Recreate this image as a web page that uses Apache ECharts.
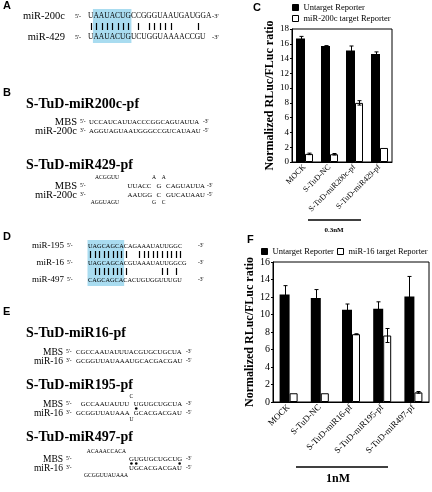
<!DOCTYPE html>
<html><head><meta charset="utf-8">
<script src="https://cdn.jsdelivr.net/npm/echarts@6/dist/echarts.min.js"></script>
<style>html,body{margin:0;padding:0;background:#fff}#c{width:432px;height:492px}</style>
</head><body><div id="c"></div>
<script>
// ---------- chart data ----------
const catsC = ['MOCK', 'S-TuD-NC', 'S-TuD-miR200c-pf', 'S-TuD-miR429-pf'];
const untargetC = [16.7, 15.7, 15.1, 14.6];
const untargetErrC = [0.3, 0.05, 0.6, 0.3];
const targetC = [1.1, 1.05, 8.0, 1.9];
const targetErrC = [0.1, 0.1, 0.3, 0];
const yTicksC = {min: 0, max: 18, step: 2};

const catsF = ['MOCK', 'S-TuD-NC', 'S-TuD-miR16-pf', 'S-TuD-miR195-pf', 'S-TuD-miR497-pf'];
const untargetF = [12.3, 11.9, 10.55, 10.65, 12.05];
const untargetErrF = [1.0, 0.95, 0.65, 0.8, 2.3];
const targetF = [1.0, 1.0, 7.75, 7.6, 1.1];
const targetErrF = [0, 0, 0.05, 0.8, 0.1];
const yTicksF = {min: 0, max: 16, step: 2};

const legendC = ['Untarget Reporter', 'miR-200c target Reporter'];
const legendF = ['Untarget Reporter', 'miR-16 target Reporter'];
const yName = 'Normalized RLuc/FLuc ratio';

// ---------- sequence panel texts ----------
const miR200c = 'UAAUACUGCCGGGUAAUGAUGGA';
const miR429 = 'UAAUACUGUCUGGUAAAACCGU';
const mbs200c = 'UCCAUCAUUACCCGGCAGUAUUA';
const miR200cRev = 'AGGUAGUAAUGGGCCGUCAUAAU';
const miR195 = 'UAGCAGCACAGAAAUAUUGGC';
const miR16 = 'UAGCAGCACGUAAAUAUUGGCG';
const miR497 = 'CAGCAGCACACUGUGGUUUGU';
const mbs16 = 'CGCCAAUAUUUACGUGCUGCUA';
const miR16Rev = 'GCGGUUAUAAAUGCACGACGAU';

const SERIF = '"Liberation Serif", "Times New Roman", serif';
const SANS = '"Liberation Sans", Arial, sans-serif';
const M = document.createElement('canvas').getContext('2d');
function tw(s, font) { M.font = font; return M.measureText(s).width; }
function sf(size, bold) { return (bold ? 'bold ' : '') + size + 'px ' + SERIF; }

const G = [];
function T(x, y, s, font, align) {
  G.push({type: 'text', x: x, y: y, z: 5, silent: true,
    style: {text: s, font: font, fill: '#000', textAlign: align || 'left', align: align || 'left',
      textVerticalAlign: 'middle', verticalAlign: 'middle'}});
}
function pipes(x0, y, a, b, font) {
  for (let i = 0; i < Math.min(a.length, b.length); i++) {
    if (a[i] === b[i]) {
      const cx = Math.round(x0 + tw(a.slice(0, i), font) + tw(a[i], font) / 2) + 0.5;
      G.push({type: 'line', z: 5, silent: true, shape: {x1: cx, y1: y - 3.5, x2: cx, y2: y + 3.5},
        style: {stroke: '#000', lineWidth: 1.2}});
    }
  }
}
function hilite(x0, seq, s, e, y1, y2, font) {
  G.push({type: 'rect', z: 1, silent: true,
    shape: {x: x0 + tw(seq.slice(0, s), font) - 0.5, y: y1, width: tw(seq.slice(s, e), font) + 1, height: y2 - y1},
    style: {fill: '#a9dcf0'}});
}
function dot(x, y) {
  G.push({type: 'circle', z: 5, silent: true, shape: {cx: x, cy: y, r: 1.3}, style: {fill: '#000'}});
}
const LET = 'bold 11px ' + SANS;

// ---- Panel A ----
T(3, 6, 'A', LET);
(function () {
  const f = sf(7.5), x0 = 88;
  hilite(x0, miR200c, 1, 8, 9, 43, f);
  T(65, 16, 'miR-200c', sf(10.5), 'right');
  T(65, 37, 'miR-429', sf(10.5), 'right');
  T(75, 16, "5'-", sf(6)); T(75, 37, "5'-", sf(6));
  T(x0, 16, miR200c, f); T(x0, 37, miR429, f);
  T(212, 16, "-3'", sf(6.5)); T(212, 37, "-3'", sf(6.5));
  pipes(x0, 26.5, miR200c, miR429, f);
})();

// ---- Panel B ----
T(3, 93, 'B', LET);
T(26, 104, 'S-TuD-miR200c-pf', sf(14, true));
(function () {
  const f = sf(6.8), x0 = 89, lf = sf(10.5);
  T(77, 122, 'MBS', lf, 'right'); T(77, 131, 'miR-200c', lf, 'right');
  T(80, 122, "5'-", sf(5.5)); T(80, 131, "3'-", sf(5.5));
  T(x0, 122, mbs200c, f); T(x0, 131, miR200cRev, f);
  T(203, 122, "-3'", sf(5.5)); T(203, 131, "-5'", sf(5.5));
})();
T(26, 165, 'S-TuD-miR429-pf', sf(14, true));
(function () {
  const f = sf(6.8), lp = sf(5.6), x0 = 89, p = 4.82, lf = sf(10.5);
  const c = k => x0 + k * p;
  const yM = 186, yR = 195, yT = 178, yB = 203;
  T(77, yM, 'MBS', lf, 'right'); T(77, yR, 'miR-200c', lf, 'right');
  T(80, yM, "5'-", sf(5.5)); T(80, yR, "3'-", sf(5.5));
  T(119, yT, 'ACGGUU', lp, 'right'); T(119, yB, 'AGGUAGU', lp, 'right');
  T(c(8), yM, 'UUACC', f); T(c(14), yM, 'G', f); T(c(16), yM, 'CAGUAUUA', f);
  T(c(8), yR, 'AAUGG', f); T(c(14), yR, 'C', f); T(c(16), yR, 'GUCAUAAU', f);
  T(c(13.5), yT, 'A', lp, 'center'); T(c(15.5), yT, 'A', lp, 'center');
  T(c(13.5), yB, 'G', lp, 'center'); T(c(15.5), yB, 'C', lp, 'center');
  T(207, yM, "-3'", sf(5.5)); T(207, yR, "-5'", sf(5.5));
})();

// ---- Panel D ----
T(3, 237, 'D', LET);
(function () {
  const f = sf(6.3), x0 = 88, lf = sf(9);
  hilite(x0, miR195, 0, 8, 240, 286, f);
  const ys = [246, 263, 280];
  T(64, ys[0], 'miR-195', lf, 'right'); T(64, ys[1], 'miR-16', lf, 'right'); T(64, ys[2], 'miR-497', lf, 'right');
  [miR195, miR16, miR497].forEach((s, i) => { T(67, ys[i], "5'-", sf(5.5)); T(x0, ys[i], s, f); T(198, ys[i], "-3'", sf(5.5)); });
  pipes(x0, 254.5, miR195, miR16, f);
  pipes(x0, 271.5, miR16, miR497, f);
})();

// ---- Panel E ----
T(3, 312, 'E', LET);
T(26, 333, 'S-TuD-miR16-pf', sf(14, true));
T(26, 385, 'S-TuD-miR195-pf', sf(14, true));
T(26, 437, 'S-TuD-miR497-pf', sf(14, true));
(function () {
  const f = sf(6.8), lp = sf(5.6), x0 = 76, p = 4.82, lf = sf(9.5), pf = sf(5.5);
  const c = k => x0 + k * p;
  function labels(yM, yR) {
    T(63, yM, 'MBS', lf, 'right'); T(63, yR, 'miR-16', lf, 'right');
    T(66, yM, "5'-", pf); T(66, yR, "3'-", pf);
    T(186, yM, "-3'", pf); T(186, yR, "-5'", pf);
  }
  // miR16-pf
  labels(352, 361);
  T(x0, 352, mbs16, f); T(x0, 361, miR16Rev, f);
  // miR195-pf
  labels(404, 413);
  T(c(1), 404, 'GCCAAUAUUU', f); T(c(11.5), 397, 'C', lp, 'center'); T(c(12), 404, 'UGUGCUGCUA', f);
  T(c(0), 413, 'GCGGUUAUAAA', f); T(c(11.5), 420, 'U', lp, 'center'); T(c(12), 413, 'GCACGACGAU', f);
  dot(c(12.5), 408.5);
  // miR497-pf
  labels(459, 468);
  T(c(11) - 3, 452, 'ACAAACCACA', lp, 'right');
  T(c(11), 459, 'GUGUGCUGCUG', f); T(c(11), 468, 'UGCACGACGAU', f);
  T(c(11) - 1, 476, 'GCGGUUAUAAA', lp, 'right');
  dot(c(11.5), 463.5); dot(c(12.5), 463.5); dot(c(21.5), 463.5);
})();

// ---- chart panel letters, underlines ----
T(253, 8, 'C', LET);
T(247, 240, 'F', LET);
G.push({type: 'line', silent: true, shape: {x1: 308, y1: 220, x2: 361, y2: 220}, style: {stroke: '#000', lineWidth: 1.5}});
T(334, 230, '0.3nM', sf(7, true), 'center');
G.push({type: 'line', silent: true, shape: {x1: 296, y1: 467, x2: 388, y2: 467}, style: {stroke: '#000', lineWidth: 1.5}});
T(338, 479, '1nM', sf(12, true), 'center');

// ---------- charts ----------
function errSeries(idx, vals, errs, offset) {
  return {type: 'custom', xAxisIndex: idx, yAxisIndex: idx, z: 10, silent: true, clip: false,
    data: vals.map((v, i) => [i, v, errs[i]]),
    renderItem(params, api) {
      const i = api.value(0), v = api.value(1), e = api.value(2);
      if (!e) return null;
      const top = api.coord([i, v + e]), bot = api.coord([i, v - e]);
      const x = Math.round(top[0] + offset) + 0.5, cap = 2;
      const st = {stroke: '#000', lineWidth: 1};
      return {type: 'group', children: [
        {type: 'line', shape: {x1: x, y1: top[1], x2: x, y2: bot[1]}, style: st},
        {type: 'line', shape: {x1: x - cap, y1: top[1], x2: x + cap, y2: top[1]}, style: st},
        {type: 'line', shape: {x1: x - cap, y1: bot[1], x2: x + cap, y2: bot[1]}, style: st}
      ]};
    }};
}
function yAxis(idx, t, fs, gap) {
  return {gridIndex: idx, type: 'value', min: t.min, max: t.max, interval: t.step,
    splitLine: {show: false},
    axisLine: {show: true, lineStyle: {color: '#000', width: 1}},
    axisTick: {show: true, length: 2, lineStyle: {color: '#000'}},
    axisLabel: {fontSize: fs, color: '#000', margin: 3, fontFamily: SERIF},
    name: yName, nameLocation: 'middle', nameGap: gap,
    nameTextStyle: {fontSize: 12, fontWeight: 'bold', color: '#000', fontFamily: SERIF}};
}
function xAxis(idx, cats, fs) {
  return {gridIndex: idx, type: 'category', data: cats,
    axisLine: {lineStyle: {color: '#000', width: 1}}, axisTick: {show: false},
    axisLabel: {rotate: 45, fontSize: fs, color: '#000', margin: 4, interval: 0, fontFamily: SERIF}};
}
function legend(names, left, top, fs, orient) {
  return {data: names, orient: orient, left: left, top: top, itemGap: 2, padding: 0,
    icon: 'rect', itemWidth: 6, itemHeight: 6, selectedMode: false,
    itemStyle: {borderColor: '#000', borderWidth: 1},
    textStyle: {color: '#000', fontFamily: SERIF, fontSize: fs}};
}

const option = {
  animation: false,
  backgroundColor: '#fff',
  textStyle: {fontFamily: SERIF},
  legend: [
    legend(legendC, 292, 3, 8.5, 'vertical'),
    legend([legendF[0]], 261, 247, 8.5, 'horizontal'),
    legend([legendF[1]], 337, 247, 8.5, 'horizontal')
  ],
  grid: [
    {left: 292, top: 29, width: 100, height: 133, show: true, borderColor: '#000', borderWidth: 1, containLabel: false, outerBoundsMode: 'none'},
    {left: 273, top: 262, width: 156, height: 140, show: true, borderColor: '#000', borderWidth: 1, containLabel: false, outerBoundsMode: 'none'}
  ],
  xAxis: [xAxis(0, catsC, 8), xAxis(1, catsF, 8.8)],
  yAxis: [yAxis(0, yTicksC, 9, 10), yAxis(1, yTicksF, 10, 14)],
  series: [
    {type: 'bar', name: legendC[0], xAxisIndex: 0, yAxisIndex: 0, data: untargetC, barWidth: 9, barGap: '0%', itemStyle: {color: '#000'}},
    {type: 'bar', name: legendC[1], xAxisIndex: 0, yAxisIndex: 0, data: targetC, barWidth: 8, barGap: '0%', itemStyle: {color: '#fff', borderColor: '#000', borderWidth: 1}},
    errSeries(0, untargetC, untargetErrC, -4),
    errSeries(0, targetC, targetErrC, 4.5),
    {type: 'bar', name: legendF[0], xAxisIndex: 1, yAxisIndex: 1, data: untargetF, barWidth: 10, barGap: '0%', itemStyle: {color: '#000'}},
    {type: 'bar', name: legendF[1], xAxisIndex: 1, yAxisIndex: 1, data: targetF, barWidth: 8, barGap: '0%', itemStyle: {color: '#fff', borderColor: '#000', borderWidth: 1}},
    errSeries(1, untargetF, untargetErrF, -4),
    errSeries(1, targetF, targetErrF, 5)
  ],
  graphic: {elements: G}
};
const chart = echarts.init(document.getElementById('c'), null, {renderer: 'canvas'});
chart.setOption(option);
</script>
</body></html>
